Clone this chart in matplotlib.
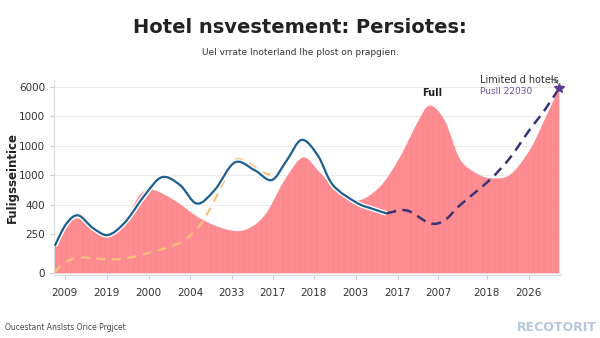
import matplotlib
matplotlib.use('Agg')
import matplotlib.pyplot as plt
import matplotlib.patheffects as pe
from matplotlib.path import Path
from matplotlib.patches import PathPatch

# x positions are in "slot" units along the axis, y in the chart's own units
# (tick 250 sits at 40, then every 30 units is the next tick)
x_ticks = [0.26, 1.27, 2.28, 3.27, 4.28, 5.26, 6.25, 7.26, 8.27, 9.25, 10.41, 11.42]
x_labels = ['2009', '2019', '2000', '2004', '2033', '2017', '2018', '2003', '2017', '2007', '2018', '2026']
y_ticks = [0, 40, 70, 100, 130, 160, 190]
y_labels = ['0', '250', '400', '1000', '1000', '1000', '6000']

# red area
area_x = [0.02, 0.29, 0.58, 0.94, 1.30, 1.71, 2.07, 2.38, 2.91, 3.51, 4.11, 4.59, 5.07, 5.55,
          5.99, 6.39, 6.75, 7.28, 7.84, 8.32, 8.75, 9.04, 9.40, 9.76, 10.12, 10.48,
          10.96, 11.44, 11.80, 12.16]
area_y = [28, 48, 56, 46, 39, 54, 80, 85, 74, 56, 45, 44, 59, 95,
          118, 103, 87, 74, 88, 118, 154, 171, 156, 117, 103, 97,
          100, 125, 156, 189]

# blue solid line
blue_x = [0.02, 0.29, 0.58, 0.94, 1.30, 1.71, 2.19, 2.60, 3.03, 3.44, 3.87, 4.35, 4.83,
          5.24, 5.60, 5.96, 6.35, 6.71, 7.28, 7.64, 8.00]
blue_y = [28, 50, 59, 46, 39, 52, 80, 98, 90, 71, 85, 113, 105,
          95, 115, 136, 120, 90, 72, 66, 61]

# navy dashed continuation
navy_x = [8.00, 8.49, 9.04, 9.40, 9.76, 10.48, 10.96, 11.44, 11.80, 12.16]
navy_y = [61, 64, 51, 54, 69, 95, 117, 146, 166, 189]

# orange dashed line
orange_x = [0.02, 0.26, 0.63, 1.35, 1.83, 2.31, 2.79, 3.15, 3.51, 3.80, 4.04, 4.35, 4.66, 5.00, 5.31]
orange_y = [1, 11, 16, 14, 16, 21, 27, 34, 49, 69, 90, 115, 113, 103, 100]


def smooth_path(xs, ys, close_to=None):
    # cubic bezier through the points (catmull-rom style handles)
    verts = [(xs[0], ys[0])]
    codes = [Path.MOVETO]
    n = len(xs)
    for i in range(n - 1):
        x0, y0 = (xs[i - 1], ys[i - 1]) if i > 0 else (xs[i], ys[i])
        x1, y1 = xs[i], ys[i]
        x2, y2 = xs[i + 1], ys[i + 1]
        x3, y3 = (xs[i + 2], ys[i + 2]) if i + 2 < n else (x2, y2)
        c1 = (x1 + (x2 - x0) / 6, y1 + (y2 - y0) / 6)
        c2 = (x2 - (x3 - x1) / 6, y2 - (y3 - y1) / 6)
        verts += [c1, c2, (x2, y2)]
        codes += [Path.CURVE4] * 3
    if close_to is not None:
        verts += [(xs[-1], close_to), (xs[0], close_to), (xs[0], ys[0])]
        codes += [Path.LINETO, Path.LINETO, Path.CLOSEPOLY]
    return Path(verts, codes)


plt.rcParams['hatch.linewidth'] = 0.5
fig = plt.figure(figsize=(6, 3.38), dpi=100)
ax = fig.add_axes([0.09, 0.186, 0.845, 0.577])

ax.add_patch(PathPatch(smooth_path(area_x, area_y, close_to=0), facecolor='#fd8a8f',
                       edgecolor='#fe9599', lw=0, hatch='|||', zorder=2))
ax.add_patch(PathPatch(smooth_path(orange_x, orange_y), facecolor='none', edgecolor='#f8c07e',
                       lw=1.6, ls=(0, (4, 3)), zorder=3))
ax.add_patch(PathPatch(smooth_path(blue_x, blue_y), facecolor='none', edgecolor='#1c5f90',
                       lw=1.6, zorder=4,
                       path_effects=[pe.Stroke(linewidth=3.6, foreground='white'), pe.Normal()]))
ax.add_patch(PathPatch(smooth_path(navy_x, navy_y), facecolor='none', edgecolor='#3a3474',
                       lw=1.8, ls=(0, (4, 2.5)), zorder=4))
ax.plot([navy_x[-1]], [navy_y[-1]], marker='*', color='#5a3b8c', ms=7, zorder=5, clip_on=False)

ax.set_xlim(0, 12.2)
ax.set_ylim(-2, 197)
ax.set_xticks(x_ticks)
ax.set_xticklabels(x_labels)
ax.set_yticks(y_ticks)
ax.set_yticklabels(y_labels)
ax.tick_params(axis='both', labelsize=7.5, colors='#333333', length=3, color='#cccccc')
ax.tick_params(axis='x', pad=6)
ax.grid(axis='y', color='#ececec', lw=0.8, zorder=0)
for s in ['top', 'right']:
    ax.spines[s].set_visible(False)
ax.spines['left'].set_color('#dddddd')
ax.spines['bottom'].set_color('#dddddd')
ax.set_ylabel('Fuligsseintice', fontsize=8.5, fontweight='bold', color='#222222')
ax.yaxis.set_label_coords(-0.07, 0.5)

ax.text(9.1, 181, 'Full', fontsize=7, fontweight='bold', ha='center', color='#222222')
ax.text(10.25, 197, 'Limited d hotels', fontsize=7, color='#333333', ha='left', va='center')
ax.annotate('', xy=(12.13, 191), xytext=(11.97, 198), annotation_clip=False,
            arrowprops=dict(arrowstyle='-', color='#555555', lw=0.8,
                            connectionstyle='arc3,rad=-0.4', shrinkA=0, shrinkB=2))
ax.text(10.25, 185, 'Pusll 22030', fontsize=6.5, color='#6b4f96', ha='left', va='center')

fig.text(0.5, 0.918, 'Hotel nsvestement: Persiotes:', ha='center', va='center',
         fontsize=14, fontweight='bold', color='#222222')
fig.text(0.5, 0.845, 'Uel vrrate lnoterland lhe plost on prapgien.', ha='center', va='center',
         fontsize=6.5, color='#333333')
fig.text(0.008, 0.032, 'Oucestant Anslsts Orice Prgjcet', ha='left', va='center',
         fontsize=5.5, color='#444444')
fig.text(0.995, 0.032, 'RECOTORIT', ha='right', va='center', fontsize=9,
         fontweight='bold', color='#b7c7d8')

fig.savefig('out.png', dpi=100)
